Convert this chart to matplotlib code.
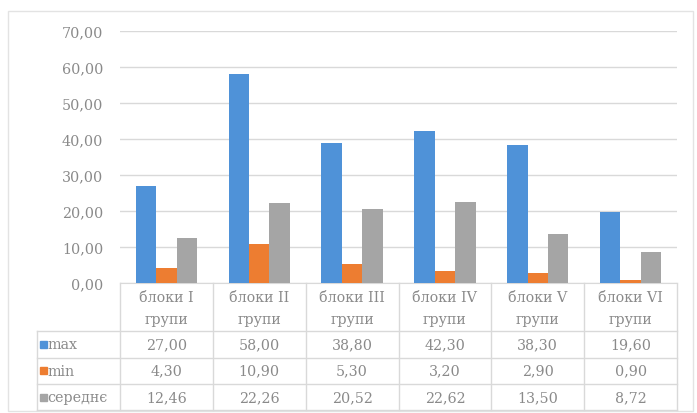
import matplotlib
matplotlib.use("Agg")
import matplotlib.pyplot as plt
from matplotlib.lines import Line2D
from matplotlib.patches import Rectangle
import numpy as np

categories = ["блоки I\nгрупи", "блоки II\nгрупи", "блоки III\nгрупи",
              "блоки IV\nгрупи", "блоки V\nгрупи", "блоки VI\nгрупи"]
series_names = ["max", "min", "середнє"]
max_vals = [27.00, 58.00, 38.80, 42.30, 38.30, 19.60]
min_vals = [4.30, 10.90, 5.30, 3.20, 2.90, 0.90]
avg_vals = [12.46, 22.26, 20.52, 22.62, 13.50, 8.72]
colors = ["#4F92D8", "#ED7D31", "#A5A5A5"]
yticks = [0, 10, 20, 30, 40, 50, 60, 70]

W, H = 697, 414
plt.rcParams['font.family'] = ['DejaVu Serif']
txt_color = "#8A8A8A"
line_color = "#D9D9D9"
FS = 10.3

fig = plt.figure(figsize=(W / 100, H / 100), dpi=100)

def fx(px):
    return px / W

def fy(py):
    return 1 - py / H

# chart frame
fig.add_artist(Rectangle((fx(8), fy(412)), fx(693) - fx(8), fy(12) - fy(412),
                         transform=fig.transFigure, fill=False,
                         edgecolor="#E3E3E3", linewidth=1))

left, right, top, bottom = 120, 677, 32, 284
ax = fig.add_axes([fx(left), fy(bottom), fx(right) - fx(left), fy(top) - fy(bottom)])

n = len(categories)
x = np.arange(n)
bw = 0.22
all_series = [max_vals, min_vals, avg_vals]
for i, (vals, c) in enumerate(zip(all_series, colors)):
    ax.bar(x + (i - 1) * bw, vals, width=bw, color=c, zorder=3)

ax.set_xlim(-0.5, n - 0.5)
ax.set_ylim(0, 70)
ax.set_yticks(yticks)
ax.set_yticklabels([f"{v:.2f}".replace(".", ",") for v in yticks],
                   fontsize=FS, color=txt_color)
ax.tick_params(axis='y', length=0, pad=12)
ax.set_xticks([])
ax.grid(axis='y', color=line_color, linewidth=1, zorder=0)
for s in ["top", "right", "left"]:
    ax.spines[s].set_visible(False)
ax.spines["bottom"].set_color(line_color)

# table drawn below the axes
fig.canvas.draw()
to_fig = ax.transData + fig.transFigure.inverted()

def col_x(v):
    return to_fig.transform((v, 0))[0]

row_lines = [332, 358.5, 385, 411]
tab_left = 37
for ry in row_lines:
    fig.add_artist(Line2D([fx(tab_left), fx(right)], [fy(ry), fy(ry)],
                          transform=fig.transFigure, color=line_color, lw=1))
for k in range(n + 1):
    xv = col_x(k - 0.5)
    fig.add_artist(Line2D([xv, xv], [fy(bottom), fy(row_lines[-1])],
                          transform=fig.transFigure, color=line_color, lw=1))
fig.add_artist(Line2D([fx(tab_left), fx(tab_left)], [fy(row_lines[0]), fy(row_lines[-1])],
                      transform=fig.transFigure, color=line_color, lw=1))

for k, cat in enumerate(categories):
    fig.text(col_x(k), fy((bottom + row_lines[0]) / 2 + 1), cat, ha='center', va='center',
             fontsize=FS, color=txt_color, linespacing=1.7,
             transform=fig.transFigure)

for r, (name, vals, c) in enumerate(zip(series_names, all_series, colors)):
    yc = fy((row_lines[r] + row_lines[r + 1]) / 2)
    fig.add_artist(Rectangle((fx(40), yc - 3.5 / H), 7 / W, 7 / H,
                             transform=fig.transFigure, color=c))
    fig.text(fx(47), yc, name, ha='left', va='center', fontsize=FS,
             color=txt_color)
    for k, v in enumerate(vals):
        fig.text(col_x(k), yc, f"{v:.2f}".replace(".", ","), ha='center',
                 va='center', fontsize=FS, color=txt_color)

fig.savefig("out.png", dpi=100)
